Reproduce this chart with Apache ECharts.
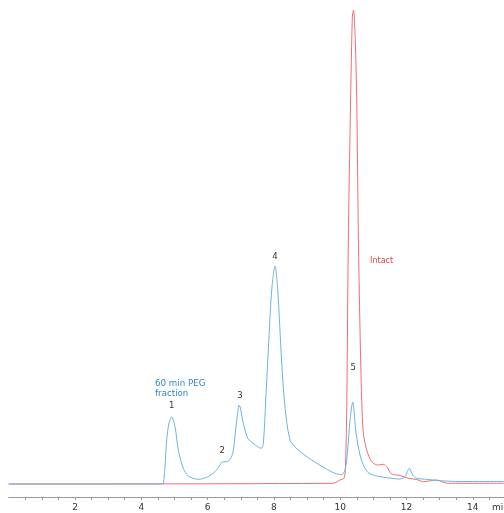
<!DOCTYPE html>
<html>
<head>
<meta charset="utf-8">
<script src="https://cdn.jsdelivr.net/npm/echarts@6/dist/echarts.min.js"></script>
<style>
  html, body { margin: 0; padding: 0; background: #fff; }
  #chart { width: 504px; height: 513px; }
</style>
</head>
<body>
<div id="chart"></div>
<script>
// retention time (min) / detector response (arbitrary units)
var pegTime = [0, 4.65, 4.685, 4.715, 4.766, 4.836, 4.917, 5.017, 5.116, 5.267, 5.418, 5.719, 5.973, 6.223, 6.374, 6.425, 6.624, 6.757, 6.857, 6.956, 7.077, 7.21, 7.379, 7.611, 7.68, 7.753, 7.831, 7.934, 8.033, 8.115, 8.214, 8.314, 8.486, 8.736, 9.14, 9.541, 9.843, 10.045, 10.145, 10.214, 10.296, 10.377, 10.477, 10.597, 10.697, 10.848, 11.101, 11.403, 11.804, 11.955, 12.084, 12.187, 12.308, 12.609, 13.011, 13.614, 14.94];
var pegSignal = [0, 0, 6, 17.3, 44, 61, 67, 57.3, 34, 15.7, 8, 4.7, 6.7, 12.3, 19, 21.7, 23, 30.7, 57.3, 79, 60.7, 45.7, 40.7, 35.7, 40.7, 84, 134, 194, 218, 194, 134, 84, 44, 34, 24, 15.7, 10.7, 9.5, 14, 30.7, 64, 82, 51, 29, 19, 11.3, 8, 6.3, 5, 7.3, 15.7, 9, 5.7, 4.7, 3.3, 2.5, 2.5];

var intactTime = [0, 9.783, 9.994, 10.118, 10.16, 10.199, 10.244, 10.296, 10.365, 10.401, 10.453, 10.498, 10.546, 10.597, 10.648, 10.697, 10.799, 10.95, 11.149, 11.3, 11.403, 11.553, 11.804, 12.054, 12.308, 12.507, 12.76, 12.911, 13.062, 13.261, 14.94];
var intactSignal = [0, 0.7, 4, 6, 19, 84, 244, 351, 467, 474, 444, 384, 251, 154, 84, 51, 34, 22.3, 19, 19.7, 17.3, 10, 8.5, 5.7, 4.5, 2.3, 3.5, 4, 2.3, 0.7, 0.7];

// axis
var tickLabels = [2, 4, 6, 8, 10, 12, 14];
var tickMarks = [];
for (var t = 0.5; t <= 14.5; t += 0.5) tickMarks.push(t);

// peak labels: [time, signal, text]
var peakLabels = [
  [4.917, 78, "1"],
  [6.44, 33, "2"],
  [6.977, 88, "3"],
  [8.033, 227, "4"],
  [10.395, 116, "5"]
];
var pegName = "60 min PEG\nfraction";
var pegNamePos = [4.413, 95];
var intactName = "Intact";
var intactNamePos = [10.9, 223];

function zip(xs, ys) {
  return xs.map(function (x, i) { return [x, ys[i]]; });
}

var chart = echarts.init(document.getElementById("chart"));
var font = "DejaVu Sans";

var option = {
  animation: false,
  grid: { left: 8.7, right: 0, top: 10, bottom: 16 },
  xAxis: {
    type: "value",
    min: 0,
    max: 14.94,
    axisLine: { onZero: false, lineStyle: { color: "#999", width: 1 } },
    axisTick: {
      show: true, length: 3, customValues: tickMarks,
      lineStyle: { color: "#999" }
    },
    splitLine: { show: false },
    axisLabel: {
      customValues: tickLabels,
      margin: 6,
      color: "#333",
      fontFamily: font,
      fontSize: 9
    }
  },
  yAxis: {
    type: "value",
    min: -13,
    max: 474,
    show: false
  },
  series: [
    {
      name: "Intact",
      type: "line",
      data: zip(intactTime, intactSignal),
      showSymbol: false,
      smooth: 0.3,
      lineStyle: { color: "#f26d75", width: 1 },
      markPoint: {
        symbol: "circle",
        symbolSize: 0,
        data: [{
          coord: intactNamePos,
          label: {
            show: true, position: "right", distance: 0, formatter: intactName,
            color: "#e53c46", fontFamily: font, fontSize: 8
          }
        }]
      }
    },
    {
      name: "PEG",
      type: "line",
      data: zip(pegTime, pegSignal),
      showSymbol: false,
      smooth: 0.3,
      lineStyle: { color: "#6db2e2", width: 1 },
      markPoint: {
        symbol: "circle",
        symbolSize: 0,
        data: peakLabels.map(function (p) {
          return {
            coord: [p[0], p[1]],
            label: {
              show: true, position: "inside", formatter: p[2],
              color: "#333", fontFamily: font, fontSize: 8.5
            }
          };
        }).concat([{
          coord: pegNamePos,
          label: {
            show: true, position: "right", distance: 0, formatter: pegName,
            color: "#2a88c9", fontFamily: font, fontSize: 8.7, lineHeight: 10, align: "left"
          }
        }])
      }
    }
  ],
  graphic: [{
    type: "text",
    left: 492,
    top: 503,
    style: { text: "min", fill: "#333", font: "9px DejaVu Sans" }
  }]
};
chart.setOption(option);
</script>
</body>
</html>
